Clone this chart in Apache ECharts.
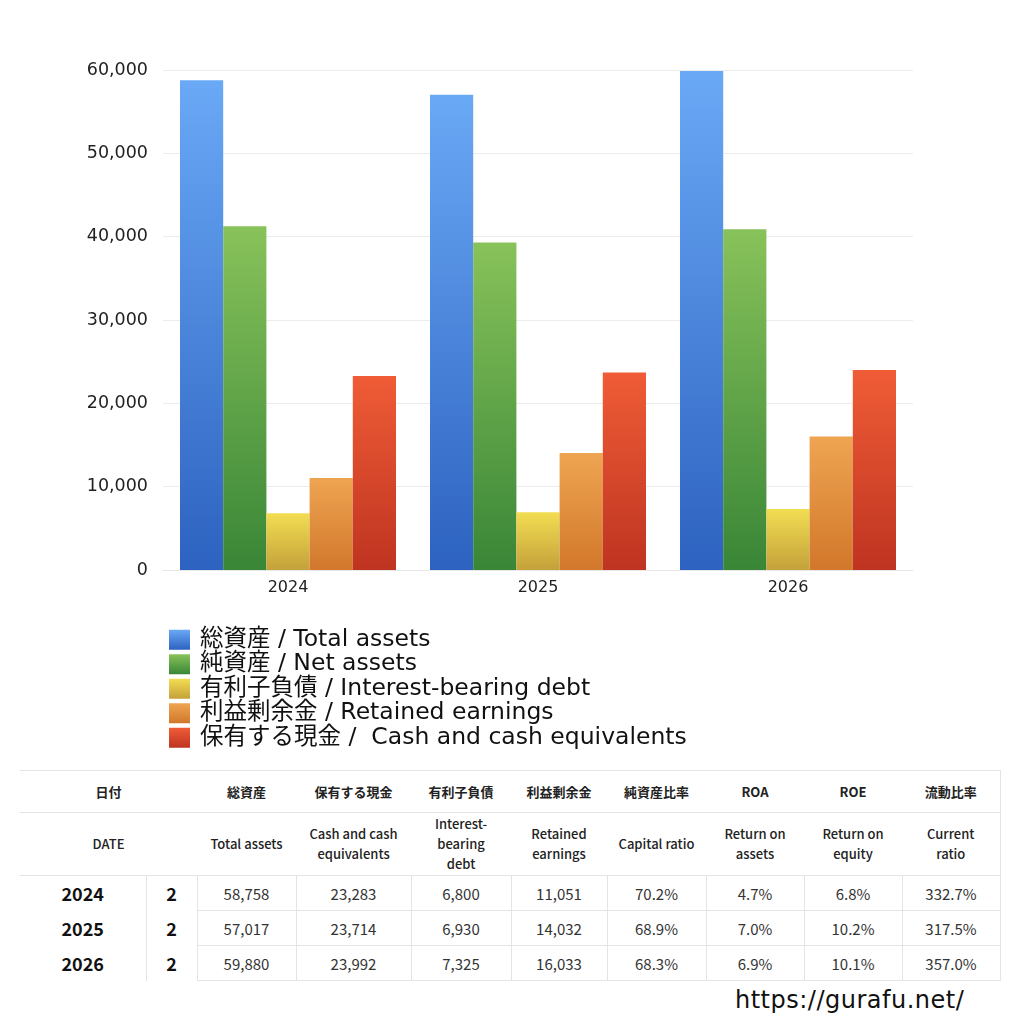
<!DOCTYPE html>
<html>
<head>
<meta charset="utf-8">
<script src="https://cdn.jsdelivr.net/npm/echarts@6/dist/echarts.min.js"></script>
<style>
  html, body { margin: 0; padding: 0; background: #fff; }
  body { width: 1024px; height: 1024px; position: relative; overflow: hidden;
         font-family: "Noto Sans CJK JP", "Noto Sans", sans-serif; color: #222; }
  #chart { position: absolute; left: 0; top: 0; width: 1024px; height: 760px; }
  #tbl { position: absolute; left: 20px; top: 770px; width: 980px; border-collapse: collapse;
         table-layout: fixed; border-top: 1px solid #e4e4e4; border-right: 1px solid #e4e4e4; }
  #tbl td { text-align: center; padding: 0; color: #222; }
  #tbl tr.h1 td { height: 41px; font-size: 13px; font-weight: bold; border-bottom: 1px solid #e4e4e4; }
  #tbl tr.h2 td { height: 62px; font-size: 13px; font-weight: 500; line-height: 20px; border-bottom: 1px solid #e4e4e4; }
  #tbl tr.d td { height: 34px; font-size: 15px; color: #333; border-left: 1px solid #e4e4e4; border-bottom: 1px solid #e4e4e4; }
  #tbl tr.d td.yr { font-size: 18px; font-weight: bold; color: #111; border-left: none; border-bottom: none; }
  #tbl tr.d td.q { font-size: 18px; font-weight: bold; color: #111; border-bottom: none; }
  #site { position: absolute; left: 735px; top: 986px; font-size: 24px; font-weight: 500; color: #111;
          font-family: "DejaVu Sans", sans-serif; letter-spacing: 0.5px; }
</style>
</head>
<body>
<div id="chart"></div>
<table id="tbl"></table>
<div id="site">https://gurafu.net/</div>
<script>
// categories and series
var years = ['2024', '2025', '2026'];
var quarter = ['2', '2', '2'];
var totalAssets = [58758, 57017, 59880];
var netAssets = [41250, 39290, 40900];
var interestDebt = [6800, 6930, 7325];
var retained = [11051, 14032, 16033];
var cash = [23283, 23714, 23992];

var seriesNames = ['総資産 / Total assets', '純資産 / Net assets', '有利子負債 / Interest-bearing debt',
  '利益剰余金 / Retained earnings', '保有する現金 /  Cash and cash equivalents'];

// table data
var capitalRatio = ['70.2%', '68.9%', '68.3%'];
var roa = ['4.7%', '7.0%', '6.9%'];
var roe = ['6.8%', '10.2%', '10.1%'];
var currentRatio = ['332.7%', '317.5%', '357.0%'];
var headJa = ['総資産', '保有する現金', '有利子負債', '利益剰余金', '純資産比率', 'ROA', 'ROE', '流動比率'];
var headEn = ['Total assets', 'Cash and cash<br>equivalents', 'Interest-<br>bearing<br>debt', 'Retained<br>earnings',
  'Capital ratio', 'Return on<br>assets', 'Return on<br>equity', 'Current<br>ratio'];

var gradients = [
  ['#6aa9f6', '#2d62c0'],
  ['#88c25a', '#398637'],
  ['#f2dd52', '#c4a13a'],
  ['#eea552', '#d2772b'],
  ['#ef5c36', '#bf3421']
];

function grad(c) {
  return new echarts.graphic.LinearGradient(0, 0, 0, 1, [
    { offset: 0, color: c[0] }, { offset: 1, color: c[1] }
  ]);
}

var dataSets = [totalAssets, netAssets, interestDebt, retained, cash];
var series = dataSets.map(function (d, i) {
  return {
    name: seriesNames[i],
    type: 'bar',
    data: d,
    barGap: '0%',
    barCategoryGap: '13.6%',
    itemStyle: { color: grad(gradients[i]) }
  };
});

var chart = echarts.init(document.getElementById('chart'));
chart.setOption({
  animation: false,
  textStyle: { fontFamily: '"DejaVu Sans", "Noto Sans CJK JP", sans-serif' },
  grid: { left: 163, top: 70, width: 750, height: 500 },
  xAxis: {
    type: 'category',
    data: years,
    axisLine: { lineStyle: { color: '#e8e8e8' } },
    axisTick: { show: false },
    axisLabel: { fontSize: 16, color: '#222', margin: 10 }
  },
  yAxis: {
    type: 'value',
    min: 0, max: 60000, interval: 10000,
    axisLine: { show: false },
    axisTick: { show: false },
    splitLine: { lineStyle: { color: '#ececec' } },
    axisLabel: {
      fontSize: 17.5, color: '#222', margin: 15,
      formatter: function (v) { return v.toLocaleString('en-US'); }
    }
  },
  legend: {
    orient: 'vertical',
    left: 164, top: 623,
    itemWidth: 21, itemHeight: 20, itemGap: 1,
    icon: 'rect',
    textStyle: { fontSize: 23.5, lineHeight: 22, color: '#111', padding: [0, 0, 0, 5] },
    data: seriesNames
  },
  series: series
});

// table
var tbl = document.getElementById('tbl');
var cols = '<colgroup><col style="width:126px"><col style="width:51px"><col style="width:99px"><col style="width:115px">' +
  '<col style="width:100px"><col style="width:96px"><col style="width:99px"><col style="width:98px"><col style="width:98px"><col style="width:98px"></colgroup>';
var html = cols + '<tr class="h1"><td colspan="2">日付</td>';
headJa.forEach(function (h) { html += '<td>' + h + '</td>'; });
html += '</tr><tr class="h2"><td colspan="2">DATE</td>';
headEn.forEach(function (h) { html += '<td>' + h + '</td>'; });
html += '</tr>';
function fmt(v) { return v.toLocaleString('en-US'); }
years.forEach(function (y, i) {
  html += '<tr class="d"><td class="yr">' + y + '</td><td class="q">' + quarter[i] + '</td>' +
    '<td>' + fmt(totalAssets[i]) + '</td><td>' + fmt(cash[i]) + '</td><td>' + fmt(interestDebt[i]) + '</td>' +
    '<td>' + fmt(retained[i]) + '</td><td>' + capitalRatio[i] + '</td><td>' + roa[i] + '</td>' +
    '<td>' + roe[i] + '</td><td>' + currentRatio[i] + '</td></tr>';
});
tbl.innerHTML = html;
</script>
</body>
</html>
